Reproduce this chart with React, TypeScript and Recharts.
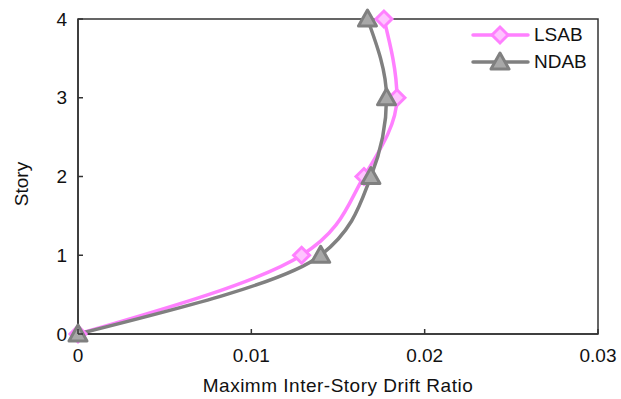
import { LineChart, Line, XAxis, YAxis, ReferenceArea, Legend } from 'recharts';

const FONT = '"Liberation Sans", Arial, sans-serif';

// story levels and peak drift ratios per story
const stories = [0, 1, 2, 3, 4];
const lsab = [0, 0.0129, 0.0165, 0.0184, 0.01765];
const ndab = [0, 0.014, 0.0169, 0.0178, 0.0167];

const xTicks = [0, 0.01, 0.02, 0.03];
const yTicks = [0, 1, 2, 3, 4];

const PINK = '#FF80FF';
const PINK_FILL = '#FFC4FF';
const GRAY = '#808080';
const GRAY_FILL = '#A8A8A8';

const data = stories.map((s, i) => ({ story: s, LSAB: lsab[i], NDAB: ndab[i] }));

const Diamond = ({ cx, cy }: any) => (
  <path
    d={`M${cx},${cy - 8} L${cx + 8},${cy} L${cx},${cy + 8} L${cx - 8},${cy} Z`}
    fill={PINK_FILL}
    stroke={PINK}
    strokeWidth={3}
  />
);

const Triangle = ({ cx, cy }: any) => (
  <path
    d={`M${cx},${cy - 9} L${cx + 9},${cy + 7} L${cx - 9},${cy + 7} Z`}
    fill={GRAY_FILL}
    stroke={GRAY}
    strokeWidth={3}
    strokeLinejoin="round"
  />
);

const XTick = ({ x, y, payload }: any) => (
  <g>
    <line x1={x} x2={x} y1={y} y2={y - 5} stroke="#333" strokeWidth={1.5} />
    <text x={x} y={y + 21} dy="0.35em" textAnchor="middle" fontSize={19} fontFamily={FONT} fill="#111">
      {payload.value}
    </text>
  </g>
);

const YTick = ({ x, y, payload }: any) => (
  <g>
    <line x1={x} x2={x + 5} y1={y} y2={y} stroke="#333" strokeWidth={1.5} />
    <text x={x - 11} y={y} dy="0.35em" textAnchor="end" fontSize={19} fontFamily={FONT} fill="#111">
      {payload.value}
    </text>
  </g>
);

const legendItems = [
  { name: 'LSAB', color: PINK, Marker: Diamond },
  { name: 'NDAB', color: GRAY, Marker: Triangle },
];

const renderLegend = () => (
  <div style={{ fontFamily: FONT, fontSize: 19, color: '#111' }}>
    {legendItems.map(({ name, color, Marker }) => (
      <div key={name} style={{ display: 'flex', alignItems: 'center', height: 27 }}>
        <svg width={62} height={24}>
          <line x1={3} x2={58} y1={12} y2={12} stroke={color} strokeWidth={3.5} strokeLinecap="round" />
          <Marker cx={30} cy={12} />
        </svg>
        <span style={{ marginLeft: 2 }}>{name}</span>
      </div>
    ))}
  </div>
);

export default function App() {
  return (
    <div style={{ position: 'absolute', left: 0, top: 0, background: '#fff' }}>
      <LineChart
        width={621}
        height={399}
        data={data}
        layout="vertical"
        margin={{ top: 19, right: 23, left: 0, bottom: 0 }}
      >
        <XAxis
          type="number"
          domain={[0, 0.03]}
          ticks={xTicks}
          height={65}
          stroke="#333"
          strokeWidth={1.5}
          tickLine={false}
          tickSize={0}
          tickMargin={0}
          tick={(p: any) => <XTick {...p} />}
          label={{
            value: 'Maximm Inter-Story Drift Ratio',
            position: 'insideBottom',
            offset: 7,
            fontSize: 19,
            letterSpacing: 0.5,
            fontFamily: FONT,
            fill: '#111',
          }}
        />
        <YAxis
          type="number"
          dataKey="story"
          domain={[0, 4]}
          ticks={yTicks}
          reversed
          width={78}
          stroke="#333"
          strokeWidth={1.5}
          tickLine={false}
          tickSize={0}
          tickMargin={0}
          tick={(p: any) => <YTick {...p} />}
          label={{
            content: () => (
              <text
                x={21}
                y={184}
                transform="rotate(-90 21 184)"
                textAnchor="middle"
                dominantBaseline="central"
                fontSize={19}
                fontFamily={FONT}
                fill="#111"
              >
                Story
              </text>
            ),
          }}
        />
        <ReferenceArea x1={0} x2={0.03} y1={0} y2={4} fill="none" stroke="#333" strokeWidth={1.5} />
        <Legend
          layout="horizontal"
          verticalAlign="middle"
          align="center"
          content={renderLegend}
          wrapperStyle={{ position: 'absolute', top: 21, left: 470, width: 140 }}
        />
        <Line
          type="monotone"
          dataKey="LSAB"
          stroke={PINK}
          strokeWidth={3.5}
          dot={(p: any) => <Diamond key={`l${p.index}`} cx={p.cx} cy={p.cy} />}
          isAnimationActive={false}
        />
        <Line
          type="monotone"
          dataKey="NDAB"
          stroke={GRAY}
          strokeWidth={3.5}
          dot={(p: any) => <Triangle key={`n${p.index}`} cx={p.cx} cy={p.cy} />}
          isAnimationActive={false}
        />
      </LineChart>
    </div>
  );
}
